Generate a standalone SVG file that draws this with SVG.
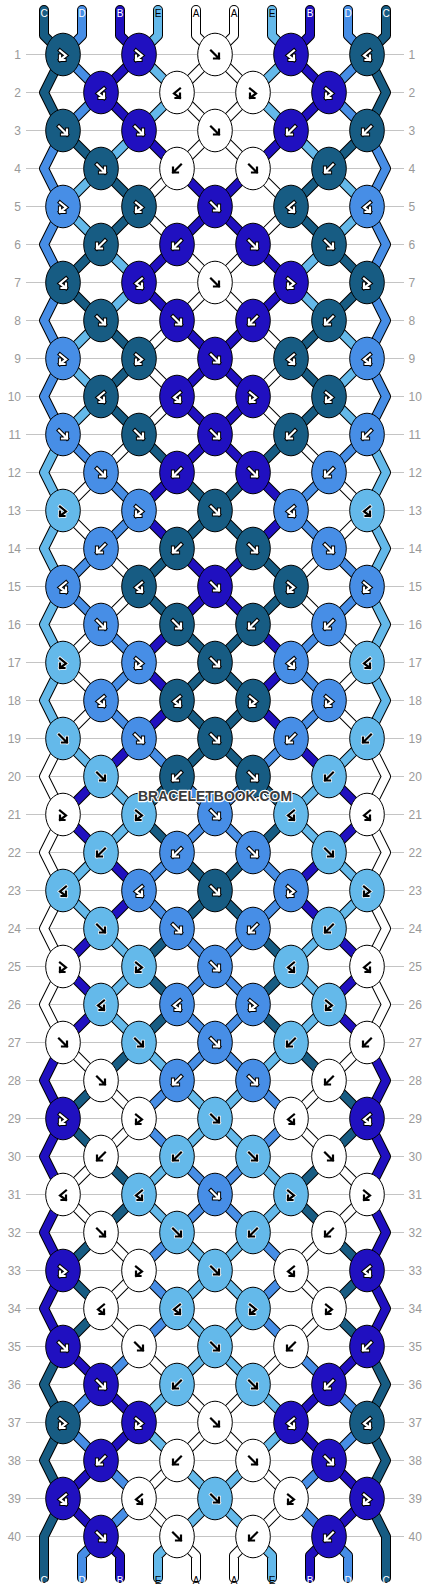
<svg xmlns="http://www.w3.org/2000/svg" xmlns:xlink="http://www.w3.org/1999/xlink" width="430" height="1592" viewBox="0 0 430 1592">
<style>
.C{fill:#175c83}.D{fill:#478ee6}.B{fill:#2010c0}.E{fill:#64b9ea}.A{fill:#ffffff}
.io{fill:none;stroke:#000;stroke-width:4.2;stroke-linecap:square;stroke-linejoin:miter}
.iw{fill:none;stroke:#fff;stroke-width:2.2;stroke-linecap:square;stroke-linejoin:miter}
.ko{fill:none;stroke:#fff;stroke-width:3.6;stroke-linecap:square;stroke-linejoin:miter}
.kk{fill:none;stroke:#000;stroke-width:2.2;stroke-linecap:square;stroke-linejoin:miter}
.rl{stroke:#c4c4c4;stroke-width:1}
.rn{font-family:"Liberation Sans",Arial,sans-serif;font-size:12px;fill:#999}
.sl{font-family:"Liberation Sans",Arial,sans-serif;font-size:10px;text-anchor:middle}
.lw{fill:#fff}.lk{fill:#000}
.thr{fill:none;stroke-linejoin:round;stroke-linecap:round}
</style>
<defs>
<ellipse id="e" rx="17.3" ry="21.3" stroke="#000" stroke-width="1"/>
<path id="pf" d="M-4,-4L4,4M4,-1L4,4L-1,4"/>
<path id="pb" d="M4,-4L-4,4M-4,-1L-4,4L1,4"/>
<path id="pfb" d="M-3,-4L3,1L-3,5.5M-3,1L-3,5.5L1.5,5.5"/>
<path id="pbf" d="M3,-4L-3,1L3,5.5M3,1L3,5.5L-1.5,5.5"/>
<g id="fW"><use href="#pf" class="io"/><use href="#pf" class="iw"/></g>
<g id="bW"><use href="#pb" class="io"/><use href="#pb" class="iw"/></g>
<g id="fbW"><use href="#pfb" class="io"/><use href="#pfb" class="iw"/></g>
<g id="bfW"><use href="#pbf" class="io"/><use href="#pbf" class="iw"/></g>
<g id="fK"><use href="#pf" class="ko"/><use href="#pf" class="kk"/></g>
<g id="bK"><use href="#pb" class="ko"/><use href="#pb" class="kk"/></g>
<g id="fbK"><use href="#pfb" class="ko"/><use href="#pfb" class="kk"/></g>
<g id="bfK"><use href="#pbf" class="ko"/><use href="#pbf" class="kk"/></g>
<polyline id="t0" points="44,10 44,35.5 63,54.5 44,92.5 63,130.5 101,168.5 139,206.5 101,244.5 63,282.5 101,320.5 139,358.5 101,396.5 139,434.5 177,472.5 215,510.5 177,548.5 139,586.5 177,624.5 215,662.5 177,700.5 215,738.5 177,776.5 139,814.5 177,852.5 215,890.5 177,928.5 139,966.5 177,1004.5 139,1042.5 101,1080.5 63,1118.5 101,1156.5 139,1194.5 101,1232.5 63,1270.5 101,1308.5 63,1346.5 44,1384.5 63,1422.5 44,1460.5 63,1498.5 44,1536.5 44,1578"/>
<polyline id="t1" points="82,10 82,35.5 63,54.5 101,92.5 63,130.5 44,168.5 63,206.5 44,244.5 63,282.5 44,320.5 63,358.5 44,396.5 63,434.5 101,472.5 139,510.5 101,548.5 63,586.5 101,624.5 139,662.5 101,700.5 139,738.5 177,776.5 215,814.5 177,852.5 139,890.5 177,928.5 215,966.5 177,1004.5 215,1042.5 177,1080.5 139,1118.5 177,1156.5 215,1194.5 177,1232.5 139,1270.5 177,1308.5 139,1346.5 101,1384.5 63,1422.5 101,1460.5 139,1498.5 101,1536.5 82,1555.5 82,1578"/>
<polyline id="t2" points="120,10 120,35.5 139,54.5 101,92.5 139,130.5 177,168.5 215,206.5 177,244.5 139,282.5 177,320.5 215,358.5 177,396.5 215,434.5 177,472.5 139,510.5 177,548.5 215,586.5 177,624.5 139,662.5 177,700.5 139,738.5 101,776.5 63,814.5 101,852.5 139,890.5 101,928.5 63,966.5 101,1004.5 63,1042.5 44,1080.5 63,1118.5 44,1156.5 63,1194.5 44,1232.5 63,1270.5 44,1308.5 63,1346.5 101,1384.5 139,1422.5 101,1460.5 63,1498.5 101,1536.5 120,1555.5 120,1578"/>
<polyline id="t3" points="158,10 158,35.5 139,54.5 177,92.5 139,130.5 101,168.5 63,206.5 101,244.5 139,282.5 101,320.5 63,358.5 101,396.5 63,434.5 44,472.5 63,510.5 44,548.5 63,586.5 44,624.5 63,662.5 44,700.5 63,738.5 101,776.5 139,814.5 101,852.5 63,890.5 101,928.5 139,966.5 101,1004.5 139,1042.5 177,1080.5 215,1118.5 177,1156.5 139,1194.5 177,1232.5 215,1270.5 177,1308.5 215,1346.5 177,1384.5 139,1422.5 177,1460.5 215,1498.5 177,1536.5 158,1555.5 158,1578"/>
<polyline id="t4" points="196,10 196,35.5 215,54.5 177,92.5 215,130.5 177,168.5 139,206.5 177,244.5 215,282.5 177,320.5 139,358.5 177,396.5 139,434.5 101,472.5 63,510.5 101,548.5 139,586.5 101,624.5 63,662.5 101,700.5 63,738.5 44,776.5 63,814.5 44,852.5 63,890.5 44,928.5 63,966.5 44,1004.5 63,1042.5 101,1080.5 139,1118.5 101,1156.5 63,1194.5 101,1232.5 139,1270.5 101,1308.5 139,1346.5 177,1384.5 215,1422.5 177,1460.5 139,1498.5 177,1536.5 196,1555.5 196,1578"/>
</defs>
<rect width="430" height="1592" fill="#fff"/>
<g id="row-lines" class="rl">
<path d="M26,54.5H404M26,92.5H404M26,130.5H404M26,168.5H404M26,206.5H404M26,244.5H404M26,282.5H404M26,320.5H404M26,358.5H404M26,396.5H404M26,434.5H404M26,472.5H404M26,510.5H404M26,548.5H404M26,586.5H404M26,624.5H404M26,662.5H404M26,700.5H404M26,738.5H404M26,776.5H404M26,814.5H404M26,852.5H404M26,890.5H404M26,928.5H404M26,966.5H404M26,1004.5H404M26,1042.5H404M26,1080.5H404M26,1118.5H404M26,1156.5H404M26,1194.5H404M26,1232.5H404M26,1270.5H404M26,1308.5H404M26,1346.5H404M26,1384.5H404M26,1422.5H404M26,1460.5H404M26,1498.5H404M26,1536.5H404"/>
</g>
<g id="row-numbers" class="rn">
<g text-anchor="end">
<text x="21" y="58.5">1</text><text x="21" y="96.5">2</text><text x="21" y="134.5">3</text><text x="21" y="172.5">4</text><text x="21" y="210.5">5</text><text x="21" y="248.5">6</text><text x="21" y="286.5">7</text><text x="21" y="324.5">8</text><text x="21" y="362.5">9</text><text x="21" y="400.5">10</text><text x="21" y="438.5">11</text><text x="21" y="476.5">12</text><text x="21" y="514.5">13</text><text x="21" y="552.5">14</text><text x="21" y="590.5">15</text><text x="21" y="628.5">16</text><text x="21" y="666.5">17</text><text x="21" y="704.5">18</text><text x="21" y="742.5">19</text><text x="21" y="780.5">20</text><text x="21" y="818.5">21</text><text x="21" y="856.5">22</text><text x="21" y="894.5">23</text><text x="21" y="932.5">24</text><text x="21" y="970.5">25</text><text x="21" y="1008.5">26</text><text x="21" y="1046.5">27</text><text x="21" y="1084.5">28</text><text x="21" y="1122.5">29</text><text x="21" y="1160.5">30</text><text x="21" y="1198.5">31</text><text x="21" y="1236.5">32</text><text x="21" y="1274.5">33</text><text x="21" y="1312.5">34</text><text x="21" y="1350.5">35</text><text x="21" y="1388.5">36</text><text x="21" y="1426.5">37</text><text x="21" y="1464.5">38</text><text x="21" y="1502.5">39</text><text x="21" y="1540.5">40</text>
</g>
<g text-anchor="start">
<text x="408.5" y="58.5">1</text><text x="408.5" y="96.5">2</text><text x="408.5" y="134.5">3</text><text x="408.5" y="172.5">4</text><text x="408.5" y="210.5">5</text><text x="408.5" y="248.5">6</text><text x="408.5" y="286.5">7</text><text x="408.5" y="324.5">8</text><text x="408.5" y="362.5">9</text><text x="408.5" y="400.5">10</text><text x="408.5" y="438.5">11</text><text x="408.5" y="476.5">12</text><text x="408.5" y="514.5">13</text><text x="408.5" y="552.5">14</text><text x="408.5" y="590.5">15</text><text x="408.5" y="628.5">16</text><text x="408.5" y="666.5">17</text><text x="408.5" y="704.5">18</text><text x="408.5" y="742.5">19</text><text x="408.5" y="780.5">20</text><text x="408.5" y="818.5">21</text><text x="408.5" y="856.5">22</text><text x="408.5" y="894.5">23</text><text x="408.5" y="932.5">24</text><text x="408.5" y="970.5">25</text><text x="408.5" y="1008.5">26</text><text x="408.5" y="1046.5">27</text><text x="408.5" y="1084.5">28</text><text x="408.5" y="1122.5">29</text><text x="408.5" y="1160.5">30</text><text x="408.5" y="1198.5">31</text><text x="408.5" y="1236.5">32</text><text x="408.5" y="1274.5">33</text><text x="408.5" y="1312.5">34</text><text x="408.5" y="1350.5">35</text><text x="408.5" y="1388.5">36</text><text x="408.5" y="1426.5">37</text><text x="408.5" y="1464.5">38</text><text x="408.5" y="1502.5">39</text><text x="408.5" y="1540.5">40</text>
</g>
</g>
<g id="connectors" class="thr">
<g stroke="#000" stroke-width="10">
<use href="#t0"/><use href="#t1"/><use href="#t2"/><use href="#t3"/><use href="#t4"/>
<g transform="matrix(-1 0 0 1 430 0)"><use href="#t0"/><use href="#t1"/><use href="#t2"/><use href="#t3"/><use href="#t4"/></g>
</g>
<g stroke-width="8">
<use href="#t0" stroke="#175c83"/><use href="#t1" stroke="#478ee6"/><use href="#t2" stroke="#2010c0"/><use href="#t3" stroke="#64b9ea"/><use href="#t4" stroke="#ffffff"/>
<g transform="matrix(-1 0 0 1 430 0)"><use href="#t0" stroke="#175c83"/><use href="#t1" stroke="#478ee6"/><use href="#t2" stroke="#2010c0"/><use href="#t3" stroke="#64b9ea"/><use href="#t4" stroke="#ffffff"/></g>
</g>
</g>
<g id="string-labels" class="sl">
<text x="44" y="16.5" class="lw">C</text><text x="82" y="16.5" class="lw">D</text><text x="120" y="16.5" class="lw">B</text><text x="158" y="16.5" class="lk">E</text><text x="196" y="16.5" class="lk">A</text><text x="234" y="16.5" class="lk">A</text><text x="272" y="16.5" class="lk">E</text><text x="310" y="16.5" class="lw">B</text><text x="348" y="16.5" class="lw">D</text><text x="386" y="16.5" class="lw">C</text>
<text x="44" y="1583.5" class="lw">C</text><text x="82" y="1583.5" class="lw">D</text><text x="120" y="1583.5" class="lw">B</text><text x="158" y="1583.5" class="lk">E</text><text x="196" y="1583.5" class="lk">A</text><text x="234" y="1583.5" class="lk">A</text><text x="272" y="1583.5" class="lk">E</text><text x="310" y="1583.5" class="lw">B</text><text x="348" y="1583.5" class="lw">D</text><text x="386" y="1583.5" class="lw">C</text>
</g>
<g id="knots">
<g id="k1-0" transform="translate(63 54.5)"><use href="#e" class="C"/><use href="#fbW"/></g>
<g id="k1-2" transform="translate(139 54.5)"><use href="#e" class="B"/><use href="#fbW"/></g>
<g id="k1-4" transform="translate(215 54.5)"><use href="#e" class="A"/><use href="#fK"/></g>
<g id="k1-6" transform="translate(291 54.5)"><use href="#e" class="B"/><use href="#bfW"/></g>
<g id="k1-8" transform="translate(367 54.5)"><use href="#e" class="C"/><use href="#bfW"/></g>
<g id="k2-1" transform="translate(101 92.5)"><use href="#e" class="B"/><use href="#bfW"/></g>
<g id="k2-3" transform="translate(177 92.5)"><use href="#e" class="A"/><use href="#bfK"/></g>
<g id="k2-5" transform="translate(253 92.5)"><use href="#e" class="A"/><use href="#fbK"/></g>
<g id="k2-7" transform="translate(329 92.5)"><use href="#e" class="B"/><use href="#fbW"/></g>
<g id="k3-0" transform="translate(63 130.5)"><use href="#e" class="C"/><use href="#fW"/></g>
<g id="k3-2" transform="translate(139 130.5)"><use href="#e" class="B"/><use href="#fW"/></g>
<g id="k3-4" transform="translate(215 130.5)"><use href="#e" class="A"/><use href="#fK"/></g>
<g id="k3-6" transform="translate(291 130.5)"><use href="#e" class="B"/><use href="#bW"/></g>
<g id="k3-8" transform="translate(367 130.5)"><use href="#e" class="C"/><use href="#bW"/></g>
<g id="k4-1" transform="translate(101 168.5)"><use href="#e" class="C"/><use href="#fW"/></g>
<g id="k4-3" transform="translate(177 168.5)"><use href="#e" class="A"/><use href="#bK"/></g>
<g id="k4-5" transform="translate(253 168.5)"><use href="#e" class="A"/><use href="#fK"/></g>
<g id="k4-7" transform="translate(329 168.5)"><use href="#e" class="C"/><use href="#bW"/></g>
<g id="k5-0" transform="translate(63 206.5)"><use href="#e" class="D"/><use href="#fbW"/></g>
<g id="k5-2" transform="translate(139 206.5)"><use href="#e" class="C"/><use href="#fbW"/></g>
<g id="k5-4" transform="translate(215 206.5)"><use href="#e" class="B"/><use href="#fW"/></g>
<g id="k5-6" transform="translate(291 206.5)"><use href="#e" class="C"/><use href="#bfW"/></g>
<g id="k5-8" transform="translate(367 206.5)"><use href="#e" class="D"/><use href="#bfW"/></g>
<g id="k6-1" transform="translate(101 244.5)"><use href="#e" class="C"/><use href="#bW"/></g>
<g id="k6-3" transform="translate(177 244.5)"><use href="#e" class="B"/><use href="#bW"/></g>
<g id="k6-5" transform="translate(253 244.5)"><use href="#e" class="B"/><use href="#fW"/></g>
<g id="k6-7" transform="translate(329 244.5)"><use href="#e" class="C"/><use href="#fW"/></g>
<g id="k7-0" transform="translate(63 282.5)"><use href="#e" class="C"/><use href="#bfW"/></g>
<g id="k7-2" transform="translate(139 282.5)"><use href="#e" class="B"/><use href="#bfW"/></g>
<g id="k7-4" transform="translate(215 282.5)"><use href="#e" class="A"/><use href="#fK"/></g>
<g id="k7-6" transform="translate(291 282.5)"><use href="#e" class="B"/><use href="#fbW"/></g>
<g id="k7-8" transform="translate(367 282.5)"><use href="#e" class="C"/><use href="#fbW"/></g>
<g id="k8-1" transform="translate(101 320.5)"><use href="#e" class="C"/><use href="#fW"/></g>
<g id="k8-3" transform="translate(177 320.5)"><use href="#e" class="B"/><use href="#fW"/></g>
<g id="k8-5" transform="translate(253 320.5)"><use href="#e" class="B"/><use href="#bW"/></g>
<g id="k8-7" transform="translate(329 320.5)"><use href="#e" class="C"/><use href="#bW"/></g>
<g id="k9-0" transform="translate(63 358.5)"><use href="#e" class="D"/><use href="#fbW"/></g>
<g id="k9-2" transform="translate(139 358.5)"><use href="#e" class="C"/><use href="#fbW"/></g>
<g id="k9-4" transform="translate(215 358.5)"><use href="#e" class="B"/><use href="#fW"/></g>
<g id="k9-6" transform="translate(291 358.5)"><use href="#e" class="C"/><use href="#bfW"/></g>
<g id="k9-8" transform="translate(367 358.5)"><use href="#e" class="D"/><use href="#bfW"/></g>
<g id="k10-1" transform="translate(101 396.5)"><use href="#e" class="C"/><use href="#bfW"/></g>
<g id="k10-3" transform="translate(177 396.5)"><use href="#e" class="B"/><use href="#bfW"/></g>
<g id="k10-5" transform="translate(253 396.5)"><use href="#e" class="B"/><use href="#fbW"/></g>
<g id="k10-7" transform="translate(329 396.5)"><use href="#e" class="C"/><use href="#fbW"/></g>
<g id="k11-0" transform="translate(63 434.5)"><use href="#e" class="D"/><use href="#fW"/></g>
<g id="k11-2" transform="translate(139 434.5)"><use href="#e" class="C"/><use href="#fW"/></g>
<g id="k11-4" transform="translate(215 434.5)"><use href="#e" class="B"/><use href="#fW"/></g>
<g id="k11-6" transform="translate(291 434.5)"><use href="#e" class="C"/><use href="#bW"/></g>
<g id="k11-8" transform="translate(367 434.5)"><use href="#e" class="D"/><use href="#bW"/></g>
<g id="k12-1" transform="translate(101 472.5)"><use href="#e" class="D"/><use href="#fW"/></g>
<g id="k12-3" transform="translate(177 472.5)"><use href="#e" class="B"/><use href="#bW"/></g>
<g id="k12-5" transform="translate(253 472.5)"><use href="#e" class="B"/><use href="#fW"/></g>
<g id="k12-7" transform="translate(329 472.5)"><use href="#e" class="D"/><use href="#bW"/></g>
<g id="k13-0" transform="translate(63 510.5)"><use href="#e" class="E"/><use href="#fbK"/></g>
<g id="k13-2" transform="translate(139 510.5)"><use href="#e" class="D"/><use href="#fbW"/></g>
<g id="k13-4" transform="translate(215 510.5)"><use href="#e" class="C"/><use href="#fW"/></g>
<g id="k13-6" transform="translate(291 510.5)"><use href="#e" class="D"/><use href="#bfW"/></g>
<g id="k13-8" transform="translate(367 510.5)"><use href="#e" class="E"/><use href="#bfK"/></g>
<g id="k14-1" transform="translate(101 548.5)"><use href="#e" class="D"/><use href="#bW"/></g>
<g id="k14-3" transform="translate(177 548.5)"><use href="#e" class="C"/><use href="#bW"/></g>
<g id="k14-5" transform="translate(253 548.5)"><use href="#e" class="C"/><use href="#fW"/></g>
<g id="k14-7" transform="translate(329 548.5)"><use href="#e" class="D"/><use href="#fW"/></g>
<g id="k15-0" transform="translate(63 586.5)"><use href="#e" class="D"/><use href="#bfW"/></g>
<g id="k15-2" transform="translate(139 586.5)"><use href="#e" class="C"/><use href="#bfW"/></g>
<g id="k15-4" transform="translate(215 586.5)"><use href="#e" class="B"/><use href="#fW"/></g>
<g id="k15-6" transform="translate(291 586.5)"><use href="#e" class="C"/><use href="#fbW"/></g>
<g id="k15-8" transform="translate(367 586.5)"><use href="#e" class="D"/><use href="#fbW"/></g>
<g id="k16-1" transform="translate(101 624.5)"><use href="#e" class="D"/><use href="#fW"/></g>
<g id="k16-3" transform="translate(177 624.5)"><use href="#e" class="C"/><use href="#fW"/></g>
<g id="k16-5" transform="translate(253 624.5)"><use href="#e" class="C"/><use href="#bW"/></g>
<g id="k16-7" transform="translate(329 624.5)"><use href="#e" class="D"/><use href="#bW"/></g>
<g id="k17-0" transform="translate(63 662.5)"><use href="#e" class="E"/><use href="#fbK"/></g>
<g id="k17-2" transform="translate(139 662.5)"><use href="#e" class="D"/><use href="#fbW"/></g>
<g id="k17-4" transform="translate(215 662.5)"><use href="#e" class="C"/><use href="#fW"/></g>
<g id="k17-6" transform="translate(291 662.5)"><use href="#e" class="D"/><use href="#bfW"/></g>
<g id="k17-8" transform="translate(367 662.5)"><use href="#e" class="E"/><use href="#bfK"/></g>
<g id="k18-1" transform="translate(101 700.5)"><use href="#e" class="D"/><use href="#bfW"/></g>
<g id="k18-3" transform="translate(177 700.5)"><use href="#e" class="C"/><use href="#bfW"/></g>
<g id="k18-5" transform="translate(253 700.5)"><use href="#e" class="C"/><use href="#fbW"/></g>
<g id="k18-7" transform="translate(329 700.5)"><use href="#e" class="D"/><use href="#fbW"/></g>
<g id="k19-0" transform="translate(63 738.5)"><use href="#e" class="E"/><use href="#fK"/></g>
<g id="k19-2" transform="translate(139 738.5)"><use href="#e" class="D"/><use href="#fW"/></g>
<g id="k19-4" transform="translate(215 738.5)"><use href="#e" class="C"/><use href="#fW"/></g>
<g id="k19-6" transform="translate(291 738.5)"><use href="#e" class="D"/><use href="#bW"/></g>
<g id="k19-8" transform="translate(367 738.5)"><use href="#e" class="E"/><use href="#bK"/></g>
<g id="k20-1" transform="translate(101 776.5)"><use href="#e" class="E"/><use href="#fK"/></g>
<g id="k20-3" transform="translate(177 776.5)"><use href="#e" class="C"/><use href="#bW"/></g>
<g id="k20-5" transform="translate(253 776.5)"><use href="#e" class="C"/><use href="#fW"/></g>
<g id="k20-7" transform="translate(329 776.5)"><use href="#e" class="E"/><use href="#bK"/></g>
<g id="k21-0" transform="translate(63 814.5)"><use href="#e" class="A"/><use href="#fbK"/></g>
<g id="k21-2" transform="translate(139 814.5)"><use href="#e" class="E"/><use href="#fbK"/></g>
<g id="k21-4" transform="translate(215 814.5)"><use href="#e" class="D"/><use href="#fW"/></g>
<g id="k21-6" transform="translate(291 814.5)"><use href="#e" class="E"/><use href="#bfK"/></g>
<g id="k21-8" transform="translate(367 814.5)"><use href="#e" class="A"/><use href="#bfK"/></g>
<g id="k22-1" transform="translate(101 852.5)"><use href="#e" class="E"/><use href="#bK"/></g>
<g id="k22-3" transform="translate(177 852.5)"><use href="#e" class="D"/><use href="#bW"/></g>
<g id="k22-5" transform="translate(253 852.5)"><use href="#e" class="D"/><use href="#fW"/></g>
<g id="k22-7" transform="translate(329 852.5)"><use href="#e" class="E"/><use href="#fK"/></g>
<g id="k23-0" transform="translate(63 890.5)"><use href="#e" class="E"/><use href="#bfK"/></g>
<g id="k23-2" transform="translate(139 890.5)"><use href="#e" class="D"/><use href="#bfW"/></g>
<g id="k23-4" transform="translate(215 890.5)"><use href="#e" class="C"/><use href="#fW"/></g>
<g id="k23-6" transform="translate(291 890.5)"><use href="#e" class="D"/><use href="#fbW"/></g>
<g id="k23-8" transform="translate(367 890.5)"><use href="#e" class="E"/><use href="#fbK"/></g>
<g id="k24-1" transform="translate(101 928.5)"><use href="#e" class="E"/><use href="#fK"/></g>
<g id="k24-3" transform="translate(177 928.5)"><use href="#e" class="D"/><use href="#fW"/></g>
<g id="k24-5" transform="translate(253 928.5)"><use href="#e" class="D"/><use href="#bW"/></g>
<g id="k24-7" transform="translate(329 928.5)"><use href="#e" class="E"/><use href="#bK"/></g>
<g id="k25-0" transform="translate(63 966.5)"><use href="#e" class="A"/><use href="#fbK"/></g>
<g id="k25-2" transform="translate(139 966.5)"><use href="#e" class="E"/><use href="#fbK"/></g>
<g id="k25-4" transform="translate(215 966.5)"><use href="#e" class="D"/><use href="#fW"/></g>
<g id="k25-6" transform="translate(291 966.5)"><use href="#e" class="E"/><use href="#bfK"/></g>
<g id="k25-8" transform="translate(367 966.5)"><use href="#e" class="A"/><use href="#bfK"/></g>
<g id="k26-1" transform="translate(101 1004.5)"><use href="#e" class="E"/><use href="#bfK"/></g>
<g id="k26-3" transform="translate(177 1004.5)"><use href="#e" class="D"/><use href="#bfW"/></g>
<g id="k26-5" transform="translate(253 1004.5)"><use href="#e" class="D"/><use href="#fbW"/></g>
<g id="k26-7" transform="translate(329 1004.5)"><use href="#e" class="E"/><use href="#fbK"/></g>
<g id="k27-0" transform="translate(63 1042.5)"><use href="#e" class="A"/><use href="#fK"/></g>
<g id="k27-2" transform="translate(139 1042.5)"><use href="#e" class="E"/><use href="#fK"/></g>
<g id="k27-4" transform="translate(215 1042.5)"><use href="#e" class="D"/><use href="#fW"/></g>
<g id="k27-6" transform="translate(291 1042.5)"><use href="#e" class="E"/><use href="#bK"/></g>
<g id="k27-8" transform="translate(367 1042.5)"><use href="#e" class="A"/><use href="#bK"/></g>
<g id="k28-1" transform="translate(101 1080.5)"><use href="#e" class="A"/><use href="#fK"/></g>
<g id="k28-3" transform="translate(177 1080.5)"><use href="#e" class="D"/><use href="#bW"/></g>
<g id="k28-5" transform="translate(253 1080.5)"><use href="#e" class="D"/><use href="#fW"/></g>
<g id="k28-7" transform="translate(329 1080.5)"><use href="#e" class="A"/><use href="#bK"/></g>
<g id="k29-0" transform="translate(63 1118.5)"><use href="#e" class="B"/><use href="#fbW"/></g>
<g id="k29-2" transform="translate(139 1118.5)"><use href="#e" class="A"/><use href="#fbK"/></g>
<g id="k29-4" transform="translate(215 1118.5)"><use href="#e" class="E"/><use href="#fK"/></g>
<g id="k29-6" transform="translate(291 1118.5)"><use href="#e" class="A"/><use href="#bfK"/></g>
<g id="k29-8" transform="translate(367 1118.5)"><use href="#e" class="B"/><use href="#bfW"/></g>
<g id="k30-1" transform="translate(101 1156.5)"><use href="#e" class="A"/><use href="#bK"/></g>
<g id="k30-3" transform="translate(177 1156.5)"><use href="#e" class="E"/><use href="#bK"/></g>
<g id="k30-5" transform="translate(253 1156.5)"><use href="#e" class="E"/><use href="#fK"/></g>
<g id="k30-7" transform="translate(329 1156.5)"><use href="#e" class="A"/><use href="#fK"/></g>
<g id="k31-0" transform="translate(63 1194.5)"><use href="#e" class="A"/><use href="#bfK"/></g>
<g id="k31-2" transform="translate(139 1194.5)"><use href="#e" class="E"/><use href="#bfK"/></g>
<g id="k31-4" transform="translate(215 1194.5)"><use href="#e" class="D"/><use href="#fW"/></g>
<g id="k31-6" transform="translate(291 1194.5)"><use href="#e" class="E"/><use href="#fbK"/></g>
<g id="k31-8" transform="translate(367 1194.5)"><use href="#e" class="A"/><use href="#fbK"/></g>
<g id="k32-1" transform="translate(101 1232.5)"><use href="#e" class="A"/><use href="#fK"/></g>
<g id="k32-3" transform="translate(177 1232.5)"><use href="#e" class="E"/><use href="#fK"/></g>
<g id="k32-5" transform="translate(253 1232.5)"><use href="#e" class="E"/><use href="#bK"/></g>
<g id="k32-7" transform="translate(329 1232.5)"><use href="#e" class="A"/><use href="#bK"/></g>
<g id="k33-0" transform="translate(63 1270.5)"><use href="#e" class="B"/><use href="#fbW"/></g>
<g id="k33-2" transform="translate(139 1270.5)"><use href="#e" class="A"/><use href="#fbK"/></g>
<g id="k33-4" transform="translate(215 1270.5)"><use href="#e" class="E"/><use href="#fK"/></g>
<g id="k33-6" transform="translate(291 1270.5)"><use href="#e" class="A"/><use href="#bfK"/></g>
<g id="k33-8" transform="translate(367 1270.5)"><use href="#e" class="B"/><use href="#bfW"/></g>
<g id="k34-1" transform="translate(101 1308.5)"><use href="#e" class="A"/><use href="#bfK"/></g>
<g id="k34-3" transform="translate(177 1308.5)"><use href="#e" class="E"/><use href="#bfK"/></g>
<g id="k34-5" transform="translate(253 1308.5)"><use href="#e" class="E"/><use href="#fbK"/></g>
<g id="k34-7" transform="translate(329 1308.5)"><use href="#e" class="A"/><use href="#fbK"/></g>
<g id="k35-0" transform="translate(63 1346.5)"><use href="#e" class="B"/><use href="#fW"/></g>
<g id="k35-2" transform="translate(139 1346.5)"><use href="#e" class="A"/><use href="#fK"/></g>
<g id="k35-4" transform="translate(215 1346.5)"><use href="#e" class="E"/><use href="#fK"/></g>
<g id="k35-6" transform="translate(291 1346.5)"><use href="#e" class="A"/><use href="#bK"/></g>
<g id="k35-8" transform="translate(367 1346.5)"><use href="#e" class="B"/><use href="#bW"/></g>
<g id="k36-1" transform="translate(101 1384.5)"><use href="#e" class="B"/><use href="#fW"/></g>
<g id="k36-3" transform="translate(177 1384.5)"><use href="#e" class="E"/><use href="#bK"/></g>
<g id="k36-5" transform="translate(253 1384.5)"><use href="#e" class="E"/><use href="#fK"/></g>
<g id="k36-7" transform="translate(329 1384.5)"><use href="#e" class="B"/><use href="#bW"/></g>
<g id="k37-0" transform="translate(63 1422.5)"><use href="#e" class="C"/><use href="#fbW"/></g>
<g id="k37-2" transform="translate(139 1422.5)"><use href="#e" class="B"/><use href="#fbW"/></g>
<g id="k37-4" transform="translate(215 1422.5)"><use href="#e" class="A"/><use href="#fK"/></g>
<g id="k37-6" transform="translate(291 1422.5)"><use href="#e" class="B"/><use href="#bfW"/></g>
<g id="k37-8" transform="translate(367 1422.5)"><use href="#e" class="C"/><use href="#bfW"/></g>
<g id="k38-1" transform="translate(101 1460.5)"><use href="#e" class="B"/><use href="#bW"/></g>
<g id="k38-3" transform="translate(177 1460.5)"><use href="#e" class="A"/><use href="#bK"/></g>
<g id="k38-5" transform="translate(253 1460.5)"><use href="#e" class="A"/><use href="#fK"/></g>
<g id="k38-7" transform="translate(329 1460.5)"><use href="#e" class="B"/><use href="#fW"/></g>
<g id="k39-0" transform="translate(63 1498.5)"><use href="#e" class="B"/><use href="#bfW"/></g>
<g id="k39-2" transform="translate(139 1498.5)"><use href="#e" class="A"/><use href="#bfK"/></g>
<g id="k39-4" transform="translate(215 1498.5)"><use href="#e" class="E"/><use href="#fK"/></g>
<g id="k39-6" transform="translate(291 1498.5)"><use href="#e" class="A"/><use href="#fbK"/></g>
<g id="k39-8" transform="translate(367 1498.5)"><use href="#e" class="B"/><use href="#fbW"/></g>
<g id="k40-1" transform="translate(101 1536.5)"><use href="#e" class="B"/><use href="#fW"/></g>
<g id="k40-3" transform="translate(177 1536.5)"><use href="#e" class="A"/><use href="#fK"/></g>
<g id="k40-5" transform="translate(253 1536.5)"><use href="#e" class="A"/><use href="#bK"/></g>
<g id="k40-7" transform="translate(329 1536.5)"><use href="#e" class="B"/><use href="#bW"/></g>
</g>
<text id="watermark" x="215" y="801" text-anchor="middle" textLength="154" lengthAdjust="spacingAndGlyphs" font-family="'Liberation Sans',Arial,sans-serif" font-size="15" font-weight="bold" fill="#3a3a3a" stroke="#fff" stroke-width="2.5" stroke-linejoin="round" paint-order="stroke">BRACELETBOOK.COM</text>
</svg>
